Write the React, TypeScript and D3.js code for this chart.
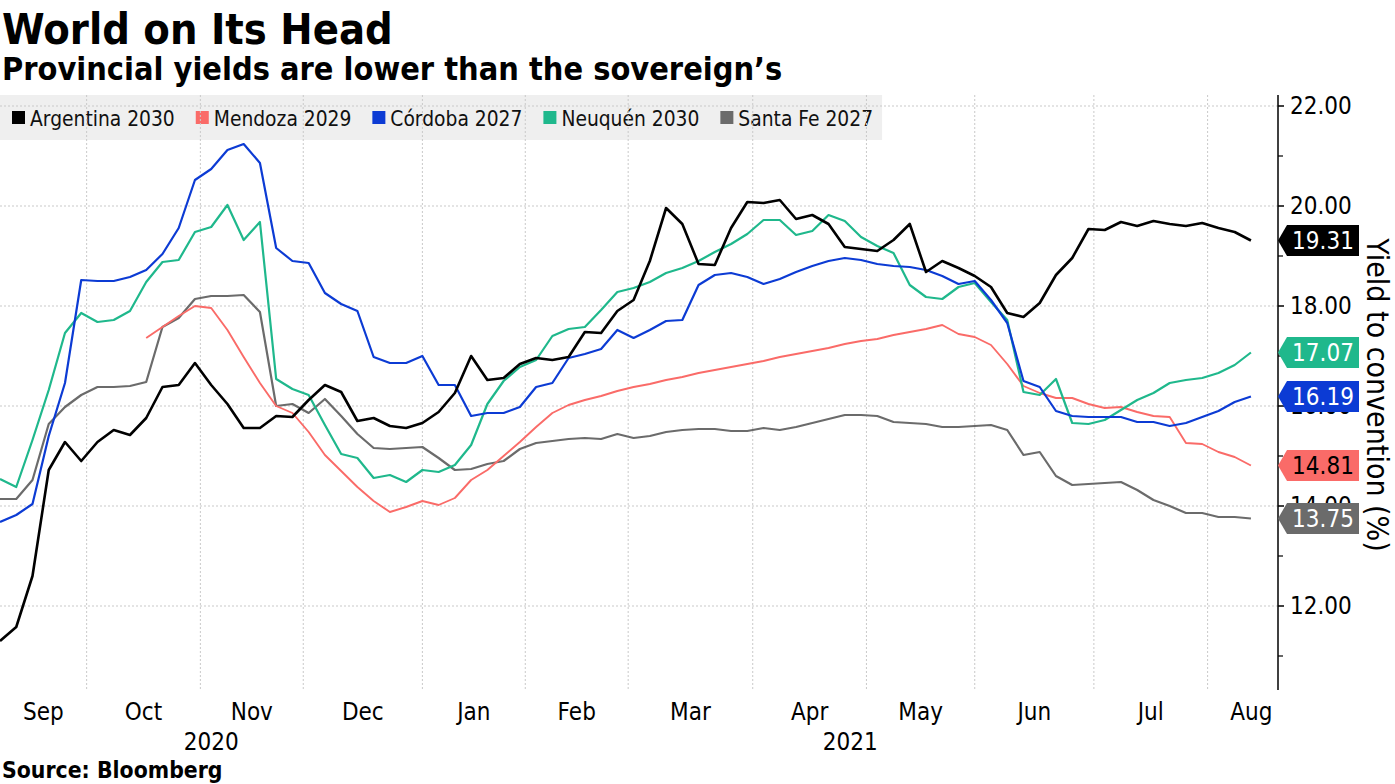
import React, { useEffect, useRef } from "react";
import * as d3 from "d3";

// ---------- data ----------
const START_DATE = "2020-09-09";
const END_DATE = "2021-08-12";
// US bond-market holidays skipped by the trading-day axis
const MARKET_HOLIDAYS = [
  "2020-10-12", "2020-11-11", "2020-11-26", "2020-12-25", "2021-01-01",
  "2021-01-18", "2021-02-15", "2021-04-02", "2021-05-31", "2021-07-05",
];
const SAMPLE_STEP = 3; // values read every third trading day

const argentina2030 = [
  11.30, 11.58, 12.60, 14.72, 15.28, 14.90, 15.28, 15.52, 15.42, 15.76,
  16.38, 16.42, 16.86, 16.42, 16.04, 15.56, 15.56, 15.80, 15.78, 16.12,
  16.42, 16.28, 15.70, 15.76, 15.60, 15.56, 15.66, 15.88, 16.26, 17.00,
  16.52, 16.56, 16.84, 16.96, 16.92, 16.98, 17.48, 17.46, 17.90, 18.12,
  18.90, 19.96, 19.64, 18.84, 18.82, 19.56, 20.08, 20.06, 20.12, 19.74,
  19.82, 19.64, 19.18, 19.14, 19.10, 19.32, 19.64, 18.68, 18.90, 18.76,
  18.60, 18.38, 17.86, 17.78, 18.06, 18.62, 18.96, 19.54, 19.52, 19.68,
  19.60, 19.70, 19.64, 19.60, 19.66, 19.56, 19.48, 19.31,
];
const mendoza2029 = [
  null, null, null, null, null, null, null, null, null,
  17.36, 17.58, 17.80, 18.00, 17.96, 17.52, 16.98, 16.46, 16.00, 15.86,
  15.48, 15.02, 14.70, 14.38, 14.10, 13.88, 13.98, 14.10, 14.02, 14.16,
  14.52, 14.72, 15.00, 15.28, 15.58, 15.86, 16.02, 16.12, 16.20, 16.30,
  16.38, 16.44, 16.52, 16.58, 16.66, 16.72, 16.78, 16.84, 16.90, 16.98,
  17.04, 17.10, 17.16, 17.24, 17.30, 17.34, 17.42, 17.48, 17.54, 17.62,
  17.44, 17.38, 17.22, 16.84, 16.40, 16.26, 16.16, 16.16, 16.04, 15.96,
  15.98, 15.88, 15.80, 15.78, 15.26, 15.24, 15.08, 14.98, 14.81,
];
const cordoba2027 = [
  13.68, 13.82, 14.04, 15.40, 16.46, 18.52, 18.50, 18.50, 18.58, 18.72,
  19.04, 19.56, 20.52, 20.74, 21.12, 21.24, 20.86, 19.16, 18.90, 18.86,
  18.26, 18.04, 17.90, 16.98, 16.86, 16.86, 17.00, 16.42, 16.42, 15.80,
  15.86, 15.86, 15.98, 16.38, 16.46, 16.96, 17.04, 17.14, 17.52, 17.36,
  17.52, 17.70, 17.72, 18.42, 18.62, 18.66, 18.58, 18.44, 18.54, 18.68,
  18.80, 18.90, 18.96, 18.92, 18.84, 18.80, 18.78, 18.72, 18.60, 18.44,
  18.50, 18.12, 17.66, 16.50, 16.38, 15.90, 15.80, 15.78, 15.78, 15.78,
  15.68, 15.68, 15.60, 15.66, 15.78, 15.90, 16.08, 16.19,
];
const neuquen2030 = [
  14.54, 14.38, 15.32, 16.32, 17.46, 17.86, 17.68, 17.72, 17.90, 18.48,
  18.88, 18.92, 19.48, 19.58, 20.02, 19.32, 19.68, 16.54, 16.34, 16.22,
  15.62, 15.04, 14.96, 14.56, 14.62, 14.48, 14.72, 14.68, 14.82, 15.22,
  16.04, 16.50, 16.78, 16.92, 17.40, 17.54, 17.58, 17.92, 18.28, 18.36,
  18.48, 18.66, 18.76, 18.90, 19.08, 19.24, 19.44, 19.72, 19.72, 19.42,
  19.50, 19.82, 19.70, 19.38, 19.20, 19.06, 18.42, 18.18, 18.14, 18.38,
  18.46, 18.08, 17.72, 16.28, 16.22, 16.54, 15.66, 15.64, 15.72, 15.92,
  16.12, 16.26, 16.46, 16.52, 16.56, 16.66, 16.82, 17.07,
];
const santaFe2027 = [
  14.14, 14.14, 14.52, 15.64, 15.98, 16.22, 16.38, 16.38, 16.40, 16.48,
  17.58, 17.76, 18.14, 18.20, 18.20, 18.22, 17.88, 16.00, 16.04, 15.86,
  16.14, 15.80, 15.44, 15.16, 15.14, 15.16, 15.18, 14.96, 14.72, 14.74,
  14.84, 14.90, 15.14, 15.26, 15.30, 15.34, 15.36, 15.34, 15.44, 15.36,
  15.40, 15.48, 15.52, 15.54, 15.54, 15.50, 15.50, 15.56, 15.52, 15.58,
  15.66, 15.74, 15.82, 15.82, 15.80, 15.68, 15.66, 15.64, 15.58, 15.58,
  15.60, 15.62, 15.52, 15.02, 15.08, 14.60, 14.42, 14.44, 14.46, 14.48,
  14.32, 14.12, 14.00, 13.86, 13.86, 13.78, 13.78, 13.75,
];

const seriesNames = ["Argentina 2030", "Mendoza 2029", "Córdoba 2027", "Neuquén 2030", "Santa Fe 2027"];
const seriesValues = [argentina2030, mendoza2029, cordoba2027, neuquen2030, santaFe2027];
const seriesColors = ["#000000", "#fa6b68", "#0c3bd4", "#1fb88c", "#6b6b6b"];
const tagTextColors = ["#ffffff", "#000000", "#ffffff", "#ffffff", "#ffffff"];
const drawOrder = [4, 1, 3, 2, 0];

const yMajorTicks = [12, 14, 16, 18, 20, 22];
const yMinorTicks = [11, 13, 15, 17, 19, 21];
const monthLabels = ["Sep", "Oct", "Nov", "Dec", "Jan", "Feb", "Mar", "Apr", "May", "Jun", "Jul", "Aug"];
const yearLabels = ["2020", "2021"];

const TITLE = "World on Its Head";
const SUBTITLE = "Provincial yields are lower than the sovereign\u2019s";
const SOURCE = "Source: Bloomberg";
const Y_LABEL = "Yield to convention (%)";

// ---------- layout ----------
const W = 1395;
const H = 784;
const PLOT = { left: 0, right: 1278, top: 95, bottom: 690 };
const Y_DOMAIN = [10.32, 22.22];
const FONT = "'DejaVu Sans', Verdana, sans-serif";
const CONDENSE = 0.9;

export default function App() {
  const ref = useRef<SVGSVGElement>(null);

  useEffect(() => {
    const svg = d3.select(ref.current);
    svg.selectAll("*").remove();

    const parse = d3.timeParse("%Y-%m-%d");
    const fmt = d3.timeFormat("%Y-%m-%d");
    const holidays = new Set(MARKET_HOLIDAYS);
    const days = d3.timeDay
      .range(parse(START_DATE)!, d3.timeDay.offset(parse(END_DATE)!, 1))
      .filter((d) => d.getDay() !== 0 && d.getDay() !== 6 && !holidays.has(fmt(d)));
    const lastIdx = days.length - 1;
    const sampleIdx = days.map((_, i) => i).filter((i) => i % SAMPLE_STEP === 0);

    const x = d3.scaleLinear().domain([0, lastIdx + 5]).range([PLOT.left, PLOT.right]);
    const y = d3.scaleLinear().domain(Y_DOMAIN).range([PLOT.bottom, PLOT.top]);

    const ctext = (
      g: any, px: number, py: number, str: string,
      size: number, opts: { weight?: string; anchor?: string; fill?: string; rotate?: number; baseline?: string } = {}
    ) => {
      const t = g
        .append("text")
        .attr("transform", `translate(${px},${py})${opts.rotate ? ` rotate(${opts.rotate})` : ""} scale(${CONDENSE},1)`)
        .attr("font-family", FONT)
        .attr("font-size", size)
        .attr("font-weight", opts.weight || "normal")
        .attr("text-anchor", opts.anchor || "start")
        .attr("fill", opts.fill || "#000")
        .text(str);
      if (opts.baseline) t.attr("dominant-baseline", opts.baseline);
      return t;
    };

    // legend background
    const legendG = svg.append("g");
    const legendBg = legendG.append("rect").attr("x", 0).attr("y", 95).attr("height", 45).attr("fill", "#efefef");

    // month boundaries (first trading day of each month)
    const monthStarts: number[] = [];
    days.forEach((d, i) => {
      if (i === 0 || d.getMonth() !== days[i - 1].getMonth()) monthStarts.push(i);
    });

    const grid = svg.append("g").attr("stroke", "#c9c9c9").attr("stroke-width", 1).attr("stroke-dasharray", "2,2");
    monthStarts.slice(1).forEach((i) => {
      grid.append("line").attr("x1", x(i)).attr("x2", x(i)).attr("y1", PLOT.top).attr("y2", PLOT.bottom);
    });
    yMajorTicks.forEach((v) => {
      grid.append("line").attr("x1", PLOT.left).attr("x2", PLOT.right).attr("y1", y(v)).attr("y2", y(v));
    });

    // right axis
    const axis = svg.append("g");
    axis.append("line").attr("x1", PLOT.right).attr("x2", PLOT.right).attr("y1", PLOT.top).attr("y2", PLOT.bottom)
      .attr("stroke", "#000").attr("stroke-width", 1.5);
    yMajorTicks.forEach((v) => {
      axis.append("line").attr("x1", PLOT.right).attr("x2", PLOT.right + 6).attr("y1", y(v)).attr("y2", y(v)).attr("stroke", "#000").attr("stroke-width", 1.5);
      ctext(axis, PLOT.right + 12, y(v), d3.format(".2f")(v), 24, { baseline: "central" });
    });
    yMinorTicks.forEach((v) => {
      axis.append("line").attr("x1", PLOT.right).attr("x2", PLOT.right + 5).attr("y1", y(v)).attr("y2", y(v)).attr("stroke", "#000").attr("stroke-width", 1.2);
    });

    // x labels (centred on the visible part of each month)
    const xl = svg.append("g");
    const labelEnd = PLOT.right + 17;
    monthStarts.forEach((s, k) => {
      const a = k === 0 ? PLOT.left : x(s);
      const b = k + 1 < monthStarts.length ? x(monthStarts[k + 1]) : labelEnd;
      ctext(xl, (a + b) / 2, 720, monthLabels[k], 24, { anchor: "middle" });
    });
    const jan = monthStarts.find((i) => days[i].getMonth() === 0)!;
    ctext(xl, (PLOT.left + x(jan)) / 2, 750, yearLabels[0], 24, { anchor: "middle" });
    ctext(xl, (x(jan) + PLOT.right) / 2, 750, yearLabels[1], 24, { anchor: "middle" });

    // lines
    const linesG = svg.append("g");
    drawOrder.forEach((s) => {
      const pts = sampleIdx.map((idx, k) => ({ idx, v: seriesValues[s][k] }));
      const line = d3
        .line<{ idx: number; v: number | null }>()
        .defined((p) => p.v != null)
        .x((p) => x(p.idx))
        .y((p) => y(p.v as number));
      linesG.append("path").datum(pts).attr("d", line as any).attr("fill", "none")
        .attr("stroke", seriesColors[s]).attr("stroke-width", s === 0 ? 2.6 : s === 1 ? 1.9 : 2.2)
        .attr("stroke-linejoin", "round");
    });

    // legend items
    let lx = 12;
    seriesNames.forEach((name, s) => {
      legendG.append("rect").attr("x", lx).attr("y", 111).attr("width", 13).attr("height", 13).attr("fill", seriesColors[s]);
      const t = ctext(legendG, lx + 18, 126, name, 20.8, { fill: "#111" });
      const w = (t.node() as SVGTextElement).getComputedTextLength() * CONDENSE;
      lx = lx + 18 + w + 21;
    });
    legendBg.attr("width", lx - 12);

    // last-value tags
    const tags = svg.append("g");
    seriesValues.forEach((vals, s) => {
      const last = vals[vals.length - 1] as number;
      const cy = y(last);
      const left = PLOT.right + 9, right = PLOT.right + 81, half = 15.5;
      tags.append("polygon")
        .attr("points", [[PLOT.right, cy], [left, cy - half], [right, cy - half], [right, cy + half], [left, cy + half]].map((p) => p.join(",")).join(" "))
        .attr("fill", seriesColors[s]);
      ctext(tags, (left + right) / 2, cy, d3.format(".2f")(last), 24, { anchor: "middle", fill: tagTextColors[s], baseline: "central" });
    });

    // y axis title
    ctext(svg, 1377, 395, Y_LABEL, 30, { anchor: "middle", rotate: 90, baseline: "central" });

    // titles
    ctext(svg, 2, 44, TITLE, 43, { weight: "bold" });
    ctext(svg, 2, 80, SUBTITLE, 32.2, { weight: "bold" });
    ctext(svg, 2, 778, SOURCE, 22.8, { weight: "bold" });
  }, []);

  return (
    <svg
      ref={ref}
      width={W}
      height={H}
      style={{ position: "absolute", left: 0, top: 0, background: "#fff" }}
    />
  );
}
